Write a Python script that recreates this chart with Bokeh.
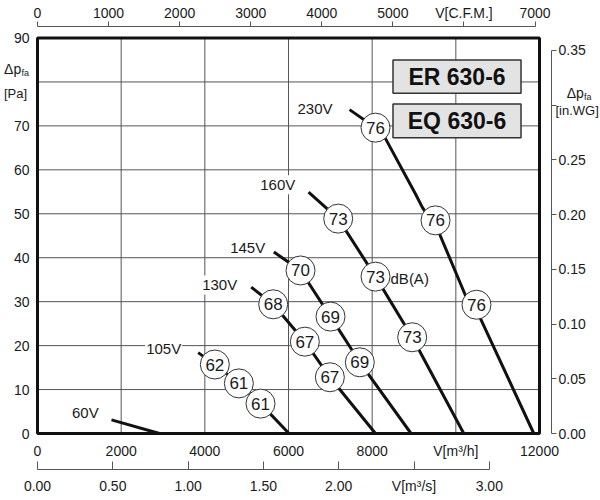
from bokeh.plotting import figure
from bokeh.models import Range1d, LinearAxis, FixedTicker, Label
from bokeh.embed import file_html
from bokeh.resources import INLINE
from bokeh.core.properties import value

FONT = "Liberation Sans"

# ---------------- data ----------------
# fan curves: air volume V [m3/h] vs static pressure dp_fa [Pa]
q_230 = [7459, 8080, 8319, 9036, 9196, 9593, 10231, 10573, 11864]
p_230 = [73.7, 69.6, 67.1, 54.5, 51.5, 45.8, 31.4, 26.5, 0.0]
q_160 = [6479, 7188, 8080, 8957, 10190]
p_160 = [54.9, 48.9, 35.7, 21.9, 0.0]
q_145 = [5650, 6287, 7004, 7705, 8930]
p_145 = [41.3, 37.1, 26.6, 16.2, 0.0]
q_130 = [5108, 5634, 6391, 6989, 8080]
p_130 = [33.3, 29.4, 20.9, 12.8, 0.0]
q_105 = [3841, 4239, 4813, 5331, 6012]
p_105 = [18.4, 15.7, 11.4, 6.8, 0.0]
q_60 = [1769, 2917]
p_60 = [3.1, 0.0]

voltage_names = ["230V", "160V", "145V", "130V", "105V", "60V"]

# sound level markers dB(A)
sound_q = [8080, 9514, 10494, 7188, 8080, 8957, 6287, 7004, 7705,
           5634, 6391, 6989, 4239, 4813, 5331]
sound_p = [69.6, 48.5, 29.3, 48.9, 35.7, 21.9, 37.1, 26.6, 16.2,
           29.4, 20.9, 12.8, 15.7, 11.4, 6.8]
sound_db = ["76", "76", "76", "73", "73", "73", "70", "69", "69",
            "68", "67", "67", "62", "61", "61"]

# axes ticks and labels
m3h_ticks = [0, 2000, 4000, 6000, 8000, 10000, 12000]
m3h_labels = ["0", "2000", "4000", "6000", "8000", "V[m³/h]", "12000"]
m3s_ticks = [0, 0.5, 1, 1.5, 2, 2.5, 3]
m3s_labels = ["0.00", "0.50", "1.00", "1.50", "2.00", "V[m³/s]", "3.00"]
cfm_ticks = [0, 1000, 2000, 3000, 4000, 5000, 6000, 7000]
cfm_labels = ["0", "1000", "2000", "3000", "4000", "5000", "V[C.F.M.]", "7000"]
pa_ticks = [0, 10, 20, 30, 40, 50, 60, 70, 80, 90]
pa_labels = ["0", "10", "20", "30", "40", "50", "60", "70", "", "90"]
inwg_ticks = [0, 0.05, 0.1, 0.15, 0.2, 0.25, 0.3, 0.35]
inwg_labels = ["0.00", "0.05", "0.10", "0.15", "0.20", "0.25", "", "0.35"]

models = ["ER 630-6", "EQ 630-6"]

M3H_PER_CFM = 1.69901
M3H_PER_M3S = 3600.0
PA_PER_INWG = 249.089

# ---------------- layout ----------------
W, H = 600, 498
SX = 502 / 12000.0   # px per m3/h
SY = 395.5 / 90.0    # px per Pa
ORG_X, ORG_Y = 37, 433   # pixel position of (0 m3/h, 0 Pa)
x0 = -ORG_X / SX
x1 = (W - ORG_X) / SX
y0 = -(H - ORG_Y) / SY
y1 = ORG_Y / SY

p = figure(frame_width=W, frame_height=H,
           x_range=Range1d(x0, x1), y_range=Range1d(y0, y1),
           x_axis_type=None, y_axis_type=None,
           output_backend="svg", toolbar_location=None, min_border=0)
p.outline_line_color = None
p.background_fill_color = "white"
p.border_fill_color = "white"

p.extra_x_ranges = {"cfm": Range1d(x0 / M3H_PER_CFM, x1 / M3H_PER_CFM),
                    "ms": Range1d(x0 / M3H_PER_M3S, x1 / M3H_PER_M3S)}
p.extra_y_ranges = {"inwg": Range1d(y0 / PA_PER_INWG, y1 / PA_PER_INWG)}

AX_COL = "#555555"
TXT_COL = "#1a1a1a"


def style(ax, size="14px"):
    ax.major_label_text_font = FONT
    ax.major_label_text_font_size = size
    ax.major_label_text_color = TXT_COL
    ax.minor_tick_line_color = None
    ax.minor_tick_in = 0
    ax.minor_tick_out = 0


# left: Pa (at V = 0)
ax_pa = LinearAxis(ticker=FixedTicker(ticks=pa_ticks),
                   major_label_overrides=dict(zip(pa_ticks, pa_labels)),
                   fixed_location=m3h_ticks[0])
style(ax_pa)
ax_pa.axis_line_color = None
ax_pa.major_tick_line_color = None
ax_pa.major_tick_in = 0
ax_pa.major_tick_out = 0
ax_pa.major_label_standoff = 8
p.add_layout(ax_pa, "left")

# below: m3/h (at dp = 0)
ax_m3h = LinearAxis(ticker=FixedTicker(ticks=m3h_ticks),
                    major_label_overrides=dict(zip(m3h_ticks, m3h_labels)),
                    fixed_location=pa_ticks[0])
style(ax_m3h)
ax_m3h.axis_line_color = None
ax_m3h.major_tick_line_color = None
ax_m3h.major_tick_in = 0
ax_m3h.major_tick_out = 0
ax_m3h.major_label_standoff = 9
p.add_layout(ax_m3h, "below")

# below: m3/s, 36 px under the frame
ax_m3s = LinearAxis(x_range_name="ms", ticker=FixedTicker(ticks=m3s_ticks),
                    major_label_overrides=dict(zip(m3s_ticks, m3s_labels)),
                    bounds=(m3s_ticks[0], m3s_ticks[-1]),
                    fixed_location=-36 / SY)
style(ax_m3s)
ax_m3s.axis_line_color = AX_COL
ax_m3s.major_tick_line_color = AX_COL
ax_m3s.major_tick_in = 8
ax_m3s.major_tick_out = 0
ax_m3s.major_label_standoff = 8
p.add_layout(ax_m3s, "below")

# above: CFM, 11.8 px over the frame
ax_cfm = LinearAxis(x_range_name="cfm", ticker=FixedTicker(ticks=cfm_ticks),
                    major_label_overrides=dict(zip(cfm_ticks, cfm_labels)),
                    bounds=(cfm_ticks[0], cfm_ticks[-1]),
                    fixed_location=pa_ticks[-1] + 11.8 / SY)
style(ax_cfm)
ax_cfm.axis_line_color = AX_COL
ax_cfm.major_tick_line_color = AX_COL
ax_cfm.major_tick_in = 0
ax_cfm.major_tick_out = 5
ax_cfm.major_label_standoff = 0
p.add_layout(ax_cfm, "above")

# right: in.WG, 12 px right of the frame
ax_in = LinearAxis(y_range_name="inwg", ticker=FixedTicker(ticks=inwg_ticks),
                   major_label_overrides=dict(zip(inwg_ticks, inwg_labels)),
                   bounds=(inwg_ticks[0], inwg_ticks[-1]),
                   fixed_location=m3h_ticks[-1] + 12 / SX)
style(ax_in)
ax_in.axis_line_color = AX_COL
ax_in.major_tick_line_color = AX_COL
ax_in.major_tick_in = 0
ax_in.major_tick_out = 5
ax_in.major_label_standoff = 2
p.add_layout(ax_in, "right")

# grid lines (from the tick arrays)
gx = m3h_ticks[1:-1]
p.segment(x0=gx, y0=[pa_ticks[0]] * len(gx), x1=gx, y1=[pa_ticks[-1]] * len(gx),
          line_color=AX_COL, line_width=1)
gy = pa_ticks[1:-1]
p.segment(x0=[m3h_ticks[0]] * len(gy), y0=gy, x1=[m3h_ticks[-1]] * len(gy), y1=gy,
          line_color=AX_COL, line_width=1)

# thick frame
p.quad(left=m3h_ticks[0], right=m3h_ticks[-1], bottom=pa_ticks[0], top=pa_ticks[-1],
       fill_color=None, line_color="#111111", line_width=3)

# model name boxes
box_left, box_right = 8498, 11558
box_tops = [85.0, 75.0]
box_bottoms = [77.4, 67.3]
p.quad(left=box_left, right=box_right, top=box_tops, bottom=box_bottoms,
       fill_color="#e3e3e3", line_color="#333333", line_width=1.5)
p.text(x=[(box_left + box_right) / 2] * 2,
       y=[(t + b) / 2 for t, b in zip(box_tops, box_bottoms)],
       text=models, text_align="center", text_baseline="middle",
       text_font=value(FONT), text_font_size="23px", text_font_style="bold",
       text_color="#111111")

# fan curves
for qs, ps in [(q_230, p_230), (q_160, p_160), (q_145, p_145),
               (q_130, p_130), (q_105, p_105), (q_60, p_60)]:
    p.line(qs, ps, line_width=3, line_color="#111111", line_join="round")

# sound markers
p.scatter(sound_q, sound_p, size=29, fill_color="white", line_color="#333333",
          line_width=1)
p.text(x=sound_q, y=sound_p, text=sound_db, text_align="center",
       text_baseline="middle", text_font=value(FONT), text_font_size="17px",
       text_color=TXT_COL)

# voltage labels (right edge, middle)
volt_x = [7076, 6185, 5467, 4798, 3459, 1487]
volt_y = [74.0, 56.6, 42.4, 33.8, 19.3, 4.85]
for vx, vy, name in zip(volt_x, volt_y, voltage_names):
    p.add_layout(Label(x=vx, y=vy, text=name, text_align="right",
                       text_baseline="middle", text_font=FONT,
                       text_font_size="15px", text_color=TXT_COL,
                       background_fill_color="white", padding=1))

p.add_layout(Label(x=8439, y=35.2, text="dB(A)", text_align="left",
                   text_baseline="middle", text_font=FONT,
                   text_font_size="15px", text_color=TXT_COL))

# axis titles
def title(x, y, t, size, align="right"):
    p.add_layout(Label(x=x, y=y, text=t, text_align=align,
                       text_baseline="middle", text_font=FONT,
                       text_font_size=size, text_color=TXT_COL))

title(-390, 83.0, "Δp", "14px")
title(-382, 82.1, "fa", "9px", "left")
title(-526, 77.3, "[Pa]", "13px", "center")
title(13059, 77.4, "Δp", "14px")
title(13064, 76.6, "fa", "9px", "left")
title(12900, 73.5, "[in.WG]", "13px", "center")

open("out.html", "w").write(file_html(p, INLINE))
